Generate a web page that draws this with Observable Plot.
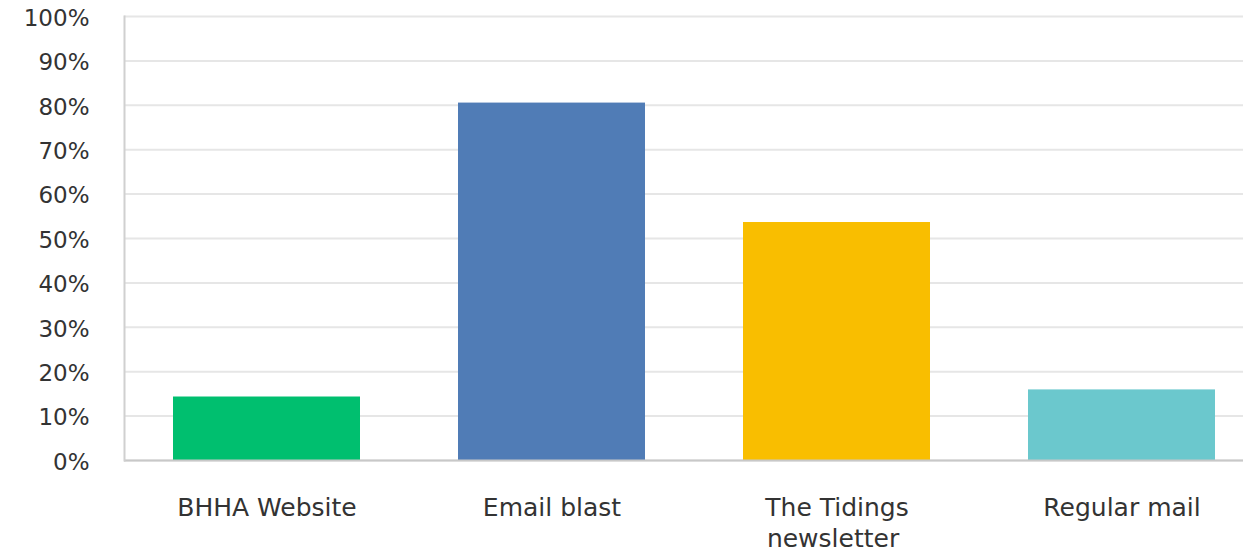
<!DOCTYPE html>
<html>
<head>
<meta charset="utf-8">
<script src="https://cdn.jsdelivr.net/npm/d3@7"></script>
<script src="https://cdn.jsdelivr.net/npm/@observablehq/plot@0.6"></script>
<style>
  html, body { margin: 0; padding: 0; background: #fff; }
</style>
</head>
<body>
<div id="chart"></div>
<script>
const categories = ["BHHA Website", "Email blast", "The Tidings\nnewsletter", "Regular mail"];
const values = [14.3, 80.5, 53.6, 15.9];
const colors = ["#00BF6F", "#507CB6", "#F9BE00", "#6BC8CD"];
const yTicks = [0, 10, 20, 30, 40, 50, 60, 70, 80, 90, 100];

const data = categories.map((c, i) => ({category: c, value: values[i]}));

// pad shorter lines so multi-line labels look left-aligned within a centered block
const padLines = s => {
  const lines = s.split("\n");
  const n = Math.max(...lines.map(l => l.length));
  return lines.map(l => l + "\u00a0".repeat(n - l.length)).join("\n");
};

const chart = Plot.plot({
  width: 1243,
  height: 552,
  marginLeft: 124,
  marginRight: 0,
  marginTop: 16,
  marginBottom: 92,
  style: {fontFamily: "DejaVu Sans", fontSize: "23px", color: "#333", background: "#fff"},
  x: {domain: categories, range: [124, 1265], paddingInner: 0.343, paddingOuter: 0.172, label: null, axis: null},
  y: {domain: [0, 100], label: null, axis: null},
  color: {domain: categories, range: colors},
  marks: [
    Plot.gridY(yTicks, {stroke: "#e6e6e6", strokeOpacity: 1, strokeWidth: 2}),
    Plot.barY(data, {x: "category", y: "value", fill: "category"}),
    Plot.ruleY([0], {stroke: "#c8c8c8", strokeWidth: 2}),
    Plot.frame({anchor: "left", stroke: "#d0d0d0", strokeWidth: 2}),
    Plot.axisY(yTicks, {tickSize: 0, tickPadding: 35, dy: 2, tickFormat: d => d + "%", fontSize: 23, fill: "#333", label: null}),
    Plot.axisX({tickSize: 0, tickPadding: 33, lineHeight: 1.25, fontSize: 25, fill: "#333", label: null, tickFormat: padLines})
  ]
});
document.getElementById("chart").appendChild(chart);
</script>
</body>
</html>
